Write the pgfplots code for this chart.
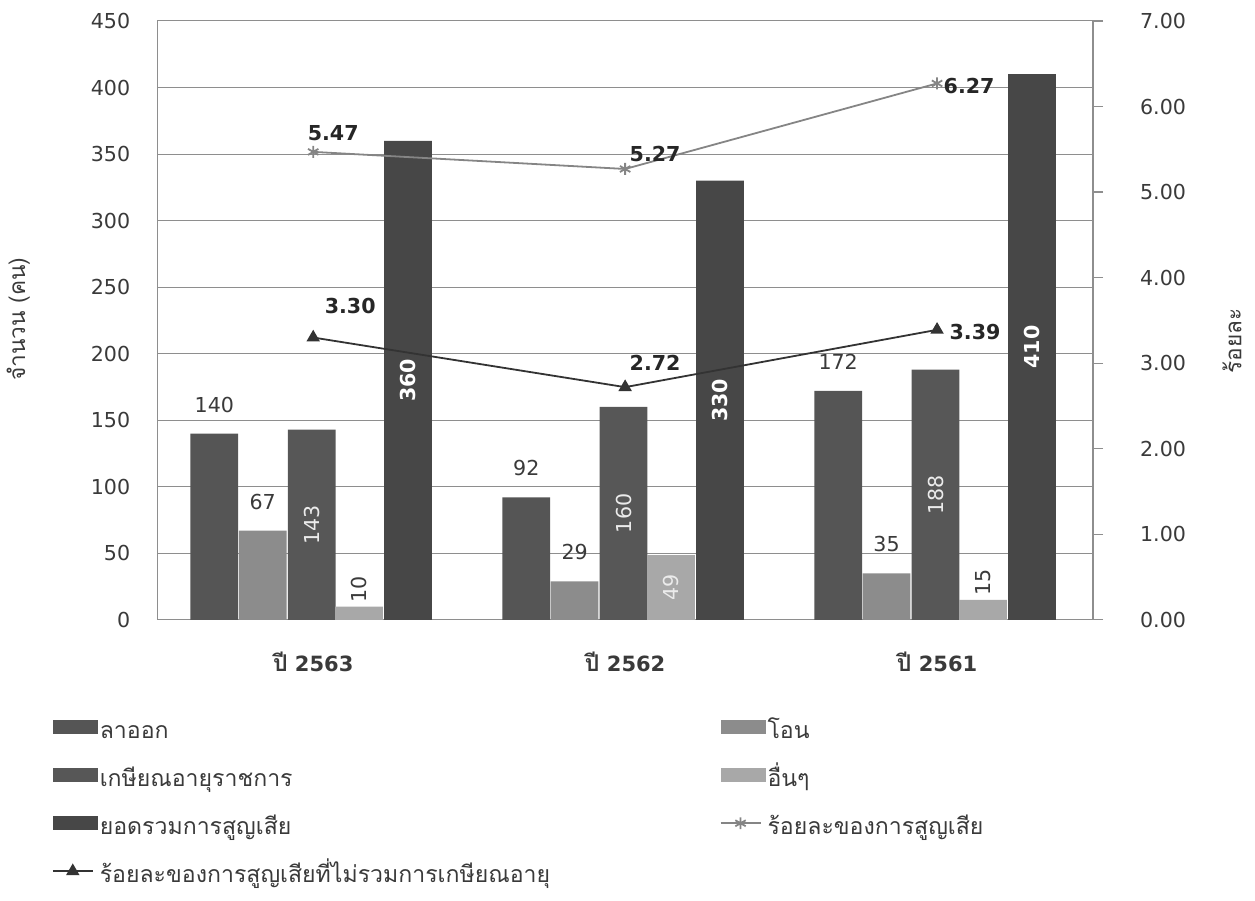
\documentclass[border=0pt]{standalone}
\usepackage{pgfplots}
\usepackage{pgfplotstable}
\pgfplotsset{compat=1.18}
\usepackage{fontspec}
\setmainfont{DejaVu Sans}
\newfontfamily\thai[Script=Thai,Scale=1.1]{Loma}
\definecolor{cLaOok}{HTML}{555555}
\definecolor{cOn}{HTML}{8C8C8C}
\definecolor{cKasian}{HTML}{575757}
\definecolor{cUen}{HTML}{A8A8A8}
\definecolor{cTotal}{HTML}{474747}
\definecolor{cStar}{HTML}{858585}
\definecolor{cTri}{HTML}{333333}
\definecolor{cGrid}{HTML}{8E8E8E}
\definecolor{cText}{HTML}{3A3A3A}

\tikzset{barleg/.style={}, lineleg/.style={}}
\pgfplotsset{
  barleg/.style={legend image code/.code={\fill[##1] (0pt,-0.5pt) rectangle (22.5pt,6.5pt);}},
  lineleg/.style={legend image code/.code={\draw[mark repeat=2,mark phase=2,##1] plot coordinates {(0pt,3pt) (10pt,3pt) (20pt,3pt)};}},
}

\pgfplotstableread{
x y dx dy lab
0 5.47 10 9.5 5.47
1 5.27 15 7.5 5.27
2 6.27 16 -1.5 6.27
}\tblStar
\pgfplotstableread{
x y dx dy lab
0 3.30 18.5 16 3.30
1 2.72 15 12 2.72
2 3.39 19 -1 3.39
}\tblTri

\begin{document}
\begin{tikzpicture}
\begin{axis}[name=ax,
  scale only axis, width=468pt, height=299.5pt,
  xmin=-0.5, xmax=2.5, ymin=0, ymax=450,
  axis x line*=bottom, axis y line*=left,
  axis line style={draw=cGrid, line width=0.6pt},
  xtick={0,1,2},
  xticklabels={{{\thai ปี} 2563},{{\thai ปี} 2562},{{\thai ปี} 2561}},
  ytick={0,50,...,450},
  xtick style={draw=none}, ytick style={draw=none},
  ymajorgrids, grid style={cGrid, line width=0.5pt},
  /pgf/number format/assume math mode=true,
  yticklabel style={font=\fontsize{10.3}{12}\selectfont, text=cText, xshift=-10pt},
  xticklabel style={font=\bfseries\fontsize{10.5}{12}\selectfont, text=cText, yshift=-12.5pt},
  ylabel={\thai จำนวน (คน)},
  ylabel style={at={(rel axis cs:-0.1485,0.502)}, anchor=center, font=\fontsize{10.3}{12}\selectfont, text=cText},
  legend columns=2,
  legend cell align=left,
  legend style={at={(-0.113,-0.167)}, anchor=north west, draw=none, fill=none,
    inner sep=0pt, row sep=11pt,
    /tikz/every even column/.append style={column sep=0pt},
    nodes={inner sep=1pt, text height=8pt, text depth=3pt, font=\fontsize{10.5}{12}\selectfont, text=cText}},
]
% ลาออก
\addplot[ybar, bar width=0.153, bar shift=0pt, fill=cLaOok, draw=none, barleg,
  nodes near coords, nodes near coords style={anchor=center, yshift=14.5pt, text=cText, font=\fontsize{10.3}{12}\selectfont}]
  coordinates {(-0.317,140) (0.683,92) (1.683,172)};
% โอน
\addplot[ybar, bar width=0.153, bar shift=0pt, fill=cOn, draw=none, barleg,
  nodes near coords, nodes near coords style={anchor=center, yshift=14.5pt, text=cText, font=\fontsize{10.3}{12}\selectfont}]
  coordinates {(-0.162,67) (0.838,29) (1.838,35)};
% เกษียณอายุราชการ
\addplot[ybar, bar width=0.153, bar shift=0pt, fill=cKasian, draw=none, barleg]
  coordinates {(-0.005,143) (0.995,160) (1.995,188)};
% อื่นๆ (labels above)
\addplot[ybar, bar width=0.153, bar shift=0pt, fill=cUen, draw=none, barleg,
  nodes near coords, nodes near coords style={anchor=west, rotate=90, inner sep=2pt, text=cText, font=\fontsize{10.3}{12}\selectfont}]
  coordinates {(0.147,10) (2.147,15)};
% อื่นๆ (label inside)
\addplot[ybar, bar width=0.153, bar shift=0pt, fill=cUen, draw=none, forget plot]
  coordinates {(1.147,49)};
% ยอดรวมการสูญเสีย
\addplot[ybar, bar width=0.153, bar shift=0pt, fill=cTotal, draw=none, barleg]
  coordinates {(0.304,360) (1.304,330) (2.304,410)};
% centred labels (placed at half bar height)
\addplot[draw=none, mark=none, forget plot, nodes near coords, point meta=explicit symbolic,
  nodes near coords style={anchor=center, rotate=90, text=white!92!black, font=\fontsize{10.3}{12}\selectfont}]
  coordinates {(-0.005,71.5) [143] (0.995,80) [160] (1.995,94) [188] (1.147,24.5) [49]};
\addplot[draw=none, mark=none, forget plot, nodes near coords, point meta=explicit symbolic,
  nodes near coords style={anchor=center, rotate=90, text=white, font=\bfseries\fontsize{10.3}{12}\selectfont}]
  coordinates {(0.304,180) [360] (1.304,165) [330] (2.304,205) [410]};
\addlegendimage{cStar, line width=0.9pt, mark=asterisk, mark size=3pt, lineleg}
\addlegendimage{cTri, line width=0.9pt, mark=triangle*, mark size=3pt, lineleg}
\legend{{\thai ลาออก},{\thai โอน},{\thai เกษียณอายุราชการ},{\thai อื่นๆ},{\thai ยอดรวมการสูญเสีย},{\thai ร้อยละของการสูญเสีย},{\makebox[309pt][l]{\thai ร้อยละของการสูญเสียที่ไม่รวมการเกษียณอายุ}}}
\end{axis}

\begin{axis}[
  scale only axis, width=468pt, height=299.5pt,
  xmin=-0.5, xmax=2.5, ymin=0, ymax=7,
  axis x line=none, axis y line*=right,
  axis line style={draw=cGrid, line width=0.6pt},
  ytick={0,1,2,3,4,5,6,7},
  yticklabels={0.00,1.00,2.00,3.00,4.00,5.00,6.00,7.00},
  tick align=outside, major tick length=5pt,
  ytick style={draw=cGrid, line width=0.6pt},
  yticklabel style={font=\fontsize{10.3}{12}\selectfont, text=cText, xshift=15pt},
  ylabel={\thai ร้อยละ},
  ylabel style={at={(rel axis cs:1.1485,0.466)}, anchor=center, font=\fontsize{10.3}{12}\selectfont, text=cText},
]
\addplot[cStar, line width=0.9pt, mark=asterisk, mark size=3pt,
  nodes near coords, point meta=explicit symbolic,
  visualization depends on={\thisrow{dx} \as \dx},
  visualization depends on={\thisrow{dy} \as \dy},
  nodes near coords style={anchor=center, xshift=\dx pt, yshift=\dy pt, text=black!85, font=\bfseries\fontsize{10.3}{12}\selectfont}]
  table[x=x, y=y, meta=lab] {\tblStar};
\addplot[cTri, line width=0.9pt, mark=triangle*, mark size=3pt,
  nodes near coords, point meta=explicit symbolic,
  visualization depends on={\thisrow{dx} \as \dx},
  visualization depends on={\thisrow{dy} \as \dy},
  nodes near coords style={anchor=center, xshift=\dx pt, yshift=\dy pt, text=black!85, font=\bfseries\fontsize{10.3}{12}\selectfont}]
  table[x=x, y=y, meta=lab] {\tblTri};
\end{axis}
\path ([shift={(-78.5pt,-140.5pt)}]ax.south west) rectangle ([shift={(81pt,10.5pt)}]ax.north east);
\end{tikzpicture}
\end{document}
